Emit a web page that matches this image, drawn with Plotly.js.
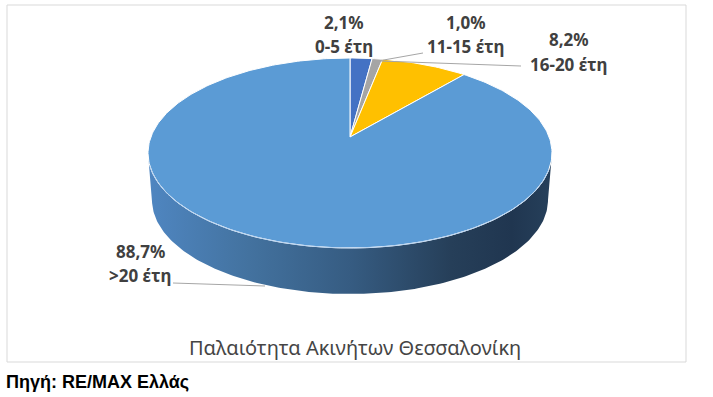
<!DOCTYPE html>
<html>
<head>
<meta charset="utf-8">
<script src="https://cdn.plot.ly/plotly-3.0.1.min.js"></script>
<style>html,body{margin:0;padding:0;background:#fff;}#chart{width:713px;height:397px;}</style>
</head>
<body>
<div id="chart"></div>
<script>
// ---- data ----
const categories = ['0-5 έτη', '11-15 έτη', '16-20 έτη', '>20 έτη'];
const shares = [2.1, 1.0, 8.2, 88.7];
const shareLabels = ['2,1%', '1,0%', '8,2%', '88,7%'];
const sliceColors = ['#4472C4', '#A5A5A5', '#FFC000', '#5B9BD5'];
const chartTitle = 'Παλαιότητα Ακινήτων Θεσσαλονίκη';
const sourceNote = 'Πηγή: RE/MAX Ελλάς';

// ---- geometry of the tilted pie ----
const G = {cx: 350, cy: 153, rx: 202, ry: 95, apexX: 350, apexY: 137, depth: 47, rx2: 198, ry2: 94};
const rad = d => d * Math.PI / 180;
function ellPt(deg) { return [G.cx + G.rx * Math.sin(rad(deg)), G.cy - G.ry * Math.cos(rad(deg))]; }
// point on top rim reached from the apex in the (perspective) direction of a data angle
function rimPt(deg) {
  const dx = G.rx * Math.sin(rad(deg)), dy = -G.ry * Math.cos(rad(deg));
  const ox = G.apexX - G.cx, oy = G.apexY - G.cy;
  const a = (dx / G.rx) ** 2 + (dy / G.ry) ** 2;
  const b = 2 * (ox * dx / (G.rx * G.rx) + oy * dy / (G.ry * G.ry));
  const c = (ox / G.rx) ** 2 + (oy / G.ry) ** 2 - 1;
  const t = (-b + Math.sqrt(b * b - 4 * a * c)) / (2 * a);
  return [G.apexX + t * dx, G.apexY + t * dy];
}
function botPt(deg) { return [G.cx + G.rx2 * Math.sin(rad(deg)), G.cy + G.depth - G.ry2 * Math.cos(rad(deg))]; }

const traces = [];
// side wall (front half, belongs to the big slice)
{
  const xs = [], ys = [];
  for (let d = 90; d <= 270; d += 1) { const p = ellPt(d); xs.push(p[0]); ys.push(p[1]); }
  for (let d = 270; d >= 90; d -= 1) { const p = botPt(d); xs.push(p[0]); ys.push(p[1]); }
  traces.push({
    type: 'scatter', mode: 'lines', x: xs, y: ys, fill: 'toself',
    line: {width: 0, color: 'rgba(0,0,0,0)'},
    fillgradient: {type: 'horizontal', colorscale: [
      [0, '#4f86c1'], [0.25, '#43729f'], [0.5, '#365c82'], [0.75, '#263f59'], [0.9, '#203650'], [1, '#26405b']]},
    hoverinfo: 'skip', showlegend: false
  });
}
// top face slices
let cum = 0;
shares.forEach((v, i) => {
  const a0 = cum / 100 * 360, a1 = (cum + v) / 100 * 360;
  cum += v;
  const xs = [G.apexX], ys = [G.apexY];
  const n = Math.max(4, Math.ceil((a1 - a0) / 1));
  for (let k = 0; k <= n; k++) { const p = rimPt(a0 + (a1 - a0) * k / n); xs.push(p[0]); ys.push(p[1]); }
  xs.push(G.apexX); ys.push(G.apexY);
  traces.push({
    type: 'scatter', mode: 'lines', x: xs, y: ys, fill: 'toself',
    fillcolor: sliceColors[i], line: {color: '#ffffff', width: 1},
    name: categories[i], hoverinfo: 'name', showlegend: false
  });
});
// rim highlight on the front edge
{
  const xs = [], ys = [];
  for (let d = 100; d <= 262; d += 1) { const p = ellPt(d); xs.push(p[0]); ys.push(p[1]); }
  traces.push({type: 'scatter', mode: 'lines', x: xs, y: ys, line: {color: '#b8d3f0', width: 1},
    hoverinfo: 'skip', showlegend: false});
}

// ---- labels ----
const labelPos = [
  {x: 344, y1: 22, y2: 46},
  {x: 466, y1: 22, y2: 46},
  {x: 569, y1: 39, y2: 64},
  {x: 140, y1: 251, y2: 275}
];
const lblFont = {family: 'Noto Sans, Open Sans, sans-serif', size: 17, color: '#404040'};
const annotations = [];
categories.forEach((c, i) => {
  annotations.push({x: labelPos[i].x, y: labelPos[i].y1, xref: 'x', yref: 'y', text: '<b>' + shareLabels[i] + '</b>',
    showarrow: false, font: lblFont, xanchor: 'center', yanchor: 'middle'});
  annotations.push({x: labelPos[i].x, y: labelPos[i].y2, xref: 'x', yref: 'y', text: '<b>' + c + '</b>',
    showarrow: false, font: lblFont, xanchor: 'center', yanchor: 'middle'});
});
annotations.push({x: 355, y: 347, xref: 'x', yref: 'y', text: chartTitle, showarrow: false,
  font: {family: 'Noto Sans, Open Sans, sans-serif', size: 20, color: '#454545'}, xanchor: 'center', yanchor: 'middle'});
annotations.push({x: 4, y: 382, xref: 'x', yref: 'y', text: '<b>' + sourceNote + '</b>', showarrow: false,
  font: {family: 'Liberation Sans, Arial, sans-serif', size: 18, color: '#000000'}, xanchor: 'left', yanchor: 'middle'});

const leaderLine = {color: '#a6a6a6', width: 1};
const shapes = [
  {type: 'rect', xref: 'x', yref: 'y', x0: 7, x1: 686, y0: 5, y1: 362, line: {color: '#d9d9d9', width: 1}, fillcolor: 'rgba(0,0,0,0)', layer: 'below'},
  {type: 'line', xref: 'x', yref: 'y', x0: 423, y0: 53, x1: 378, y1: 61, line: leaderLine},
  {type: 'line', xref: 'x', yref: 'y', x0: 521, y0: 66, x1: 380, y1: 61, line: leaderLine},
  {type: 'line', xref: 'x', yref: 'y', x0: 173, y0: 283, x1: 265, y1: 286, line: leaderLine}
];

const layout = {
  width: 713, height: 397,
  margin: {l: 0, r: 0, t: 0, b: 0},
  paper_bgcolor: '#ffffff', plot_bgcolor: '#ffffff',
  xaxis: {range: [0, 713], visible: false, fixedrange: true},
  yaxis: {range: [397, 0], visible: false, fixedrange: true},
  annotations: annotations, shapes: shapes, showlegend: false
};
Plotly.newPlot('chart', traces, layout, {displayModeBar: false, staticPlot: true});
</script>
</body>
</html>
